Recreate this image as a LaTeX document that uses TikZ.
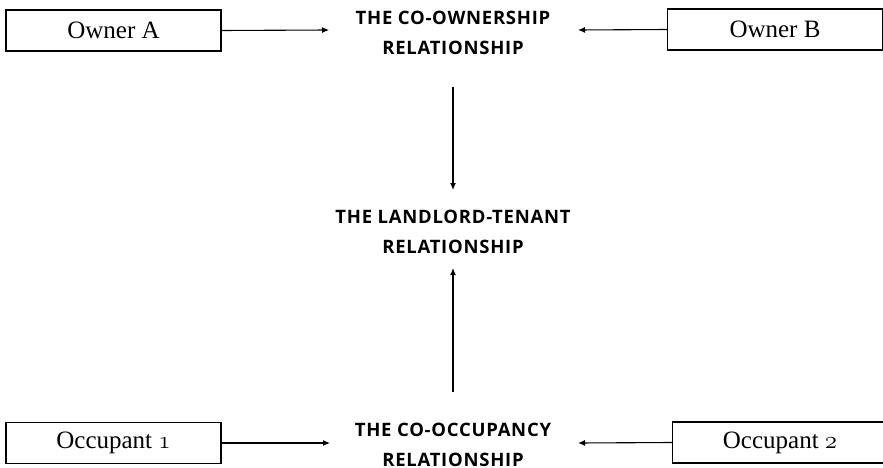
\documentclass[tikz,border=0pt]{standalone}
\usepackage{fontspec}
\setmainfont{Liberation Serif}
\newfontfamily\capsfont{Open Sans}[LetterSpace=4]
\usetikzlibrary{arrows.meta}
\newcommand{\osn}[1]{{\usefont{OML}{cmm}{m}{it}#1}}
\begin{document}
\begin{tikzpicture}[x=1pt,y=-1pt,
  party/.style={draw, line width=1.1pt, minimum width=215pt, minimum height=41pt, inner sep=0pt, font=\fontsize{25}{28}\selectfont},
  rel/.style={align=center, font=\capsfont\bfseries\fontsize{18.5}{30}\selectfont, inner sep=0pt},
  conn/.style={line width=1.1pt, -{Latex[length=7pt,width=6pt]}}]
\useasboundingbox (0,0) rectangle (883,468);
\node[party] (oa) at (113.5,30.5) {Owner A};
\node[party] (ob) at (775,29.5) {Owner B};
\node[party] (o1) at (113.5,443) {Occupant \osn{1}};
\node[party] (o2) at (780,442.5) {Occupant \osn{2}};
\node[rel] (co) at (453,33) {THE CO-OWNERSHIP\\RELATIONSHIP};
\node[rel] (lt) at (453,232) {THE LANDLORD-TENANT\\RELATIONSHIP};
\node[rel] (cc) at (453,445) {THE CO-OCCUPANCY\\RELATIONSHIP};
\coordinate (coR) at (578,30);
\coordinate (coL) at (329,30);
\coordinate (ccL) at (330,443);
\coordinate (ccR) at (578,443);
\coordinate (cdown) at (453,87);
\coordinate (ltT) at (453,190);
\coordinate (ltB) at (453,268);
\coordinate (cup) at (453,392);
\draw[conn] (oa.east) -- (coL);
\draw[conn] (ob.west) -- (coR);
\draw[conn] (o1.east) -- (ccL);
\draw[conn] (o2.west) -- (ccR);
\draw[conn] (cdown) -- (ltT);
\draw[conn] (cup) -- (ltB);
\end{tikzpicture}
\end{document}
